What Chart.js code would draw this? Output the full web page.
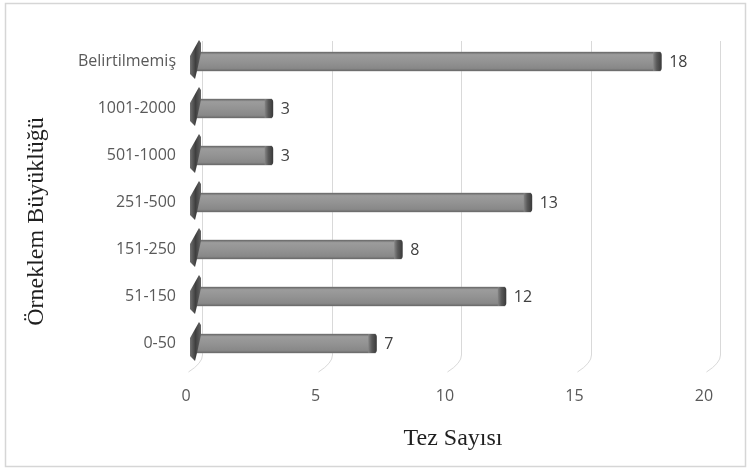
<!DOCTYPE html>
<html lang="tr">
<head>
<meta charset="utf-8">
<title>Örneklem Büyüklüğü</title>
<script src="https://cdn.jsdelivr.net/npm/chart.js@4.4.1/dist/chart.umd.min.js"></script>
<style>
  html, body { margin: 0; padding: 0; background: #ffffff; }
  #wrap { width: 750px; height: 473px; }
</style>
</head>
<body>
<div id="wrap"><canvas id="c" width="750" height="473"></canvas></div>
<script>
// Sample-size groups (top to bottom) and thesis counts
const categories = ['Belirtilmemiş', '1001-2000', '501-1000', '251-500', '151-250', '51-150', '0-50'];
const tezSayisi = [18, 3, 3, 13, 8, 12, 7];
const xTickValues = [0, 5, 10, 15, 20];
const xAxisTitle = 'Tez Sayısı';
const yAxisTitle = 'Örneklem Büyüklüğü';

const labelFont = { family: '"Open Sans", sans-serif', size: 16 };
const titleFont = { family: '"Liberation Serif", "Times New Roman", serif', size: 24 };

// White page with a thin frame
const framePlugin = {
  id: 'frame',
  beforeDraw(chart) {
    const { ctx, width, height } = chart;
    ctx.save();
    ctx.fillStyle = '#ffffff';
    ctx.fillRect(0, 0, width, height);
    ctx.strokeStyle = '#d6d6d6';
    ctx.lineWidth = 1.5;
    ctx.strokeRect(5.5, 3.5, width - 10, height - 10);
    ctx.restore();
  }
};

// Back-wall gridlines that bend forward onto the floor
const gridPlugin = {
  id: 'grid3d',
  beforeDatasetsDraw(chart) {
    const { ctx, chartArea: { top, bottom }, scales: { x } } = chart;
    ctx.save();
    ctx.strokeStyle = '#d9d9d9';
    ctx.lineWidth = 1;
    x.ticks.forEach(t => {
      const px = Math.round(x.getPixelForValue(t.value)) + 8.5;
      ctx.beginPath();
      ctx.moveTo(px, top + 3);
      ctx.lineTo(px, bottom - 12);
      ctx.quadraticCurveTo(px, bottom - 4, px - 14, bottom + 5);
      ctx.stroke();
    });
    ctx.restore();
  }
};

// Shading, end caps, wall wedges and value labels for each bar
const barPlugin = {
  id: 'bar3d',
  afterDatasetsDraw(chart) {
    const { ctx } = chart;
    const meta = chart.getDatasetMeta(0);
    ctx.save();
    meta.data.forEach((el, i) => {
      const { x, y, base, height } = el.getProps(['x', 'y', 'base', 'height'], true);
      const top = y - height / 2, bot = y + height / 2;

      // front face shading
      const g = ctx.createLinearGradient(0, top, 0, bot);
      g.addColorStop(0, '#666666');
      g.addColorStop(0.14, '#9c9c9c');
      g.addColorStop(0.5, '#939393');
      g.addColorStop(0.86, '#888888');
      g.addColorStop(1, '#686868');
      ctx.fillStyle = g;
      ctx.fillRect(base, top, x - base, height);

      // end cap
      const cg = ctx.createLinearGradient(x - 7, 0, x + 1, 0);
      cg.addColorStop(0, '#858585');
      cg.addColorStop(0.45, '#595959');
      cg.addColorStop(1, '#3c3c3c');
      ctx.fillStyle = cg;
      ctx.beginPath();
      ctx.moveTo(x - 7, top);
      ctx.lineTo(x - 1, top);
      ctx.quadraticCurveTo(x + 1.5, top, x + 1.5, top + 3);
      ctx.lineTo(x + 1.5, bot - 3);
      ctx.quadraticCurveTo(x + 1.5, bot, x - 1, bot);
      ctx.lineTo(x - 7, bot);
      ctx.closePath();
      ctx.fill();

      // wall wedge at the base
      const wg = ctx.createLinearGradient(base - 5, 0, base + 8, 0);
      wg.addColorStop(0, '#7a7a7a');
      wg.addColorStop(0.5, '#3f3f3f');
      wg.addColorStop(1, '#6a6a6a');
      ctx.fillStyle = wg;
      ctx.beginPath();
      ctx.moveTo(base - 4, top + 4);
      ctx.lineTo(base + 5, top - 12);
      ctx.lineTo(base + 7, top - 9);
      ctx.lineTo(base + 7, top + 1);
      ctx.lineTo(base + 3, bot);
      ctx.lineTo(base + 1, bot + 8);
      ctx.lineTo(base - 4, bot + 3);
      ctx.closePath();
      ctx.fill();

      // value label
      ctx.fillStyle = '#404040';
      ctx.font = `${labelFont.size}px ${labelFont.family}`;
      ctx.textAlign = 'left';
      ctx.textBaseline = 'middle';
      ctx.fillText(String(tezSayisi[i]), x + 9, y + 1);
    });
    ctx.restore();
  }
};

// Vertical axis title, set a little below the plot centre
const yTitlePlugin = {
  id: 'yTitle',
  afterDraw(chart) {
    const { ctx, chartArea } = chart;
    ctx.save();
    ctx.translate(37, (chartArea.top + chartArea.bottom) / 2 + 19);
    ctx.rotate(-Math.PI / 2);
    ctx.fillStyle = '#1f1f1f';
    ctx.font = `${titleFont.size}px ${titleFont.family}`;
    ctx.textAlign = 'center';
    ctx.textBaseline = 'middle';
    ctx.fillText(yAxisTitle, 0, 0);
    ctx.restore();
  }
};

new Chart(document.getElementById('c'), {
  type: 'bar',
  data: {
    labels: categories,
    datasets: [{
      data: tezSayisi,
      backgroundColor: '#939393',
      borderWidth: 0,
      barThickness: 19
    }]
  },
  options: {
    indexAxis: 'y',
    responsive: false,
    animation: false,
    events: [],
    layout: { padding: { top: 38, right: 38, bottom: 0, left: 0 } },
    plugins: { legend: { display: false }, tooltip: { enabled: false } },
    scales: {
      x: {
        min: 0,
        max: 20,
        afterBuildTicks(scale) { scale.ticks = xTickValues.map(v => ({ value: v })); },
        afterFit(scale) { scale.height = 106; },
        grid: { display: false, drawTicks: false },
        border: { display: false },
        ticks: { color: '#595959', font: labelFont, padding: 20, labelOffset: -8 },
        title: {
          display: true,
          text: xAxisTitle,
          color: '#1f1f1f',
          font: titleFont,
          padding: { top: 0, bottom: 20 }
        }
      },
      y: {
        afterFit(scale) { scale.width = 194; },
        grid: { display: false, drawTicks: false },
        border: { display: false },
        ticks: { color: '#595959', font: labelFont, padding: 18 },
        title: { display: false }
      }
    }
  },
  plugins: [framePlugin, gridPlugin, barPlugin, yTitlePlugin]
});
</script>
</body>
</html>
